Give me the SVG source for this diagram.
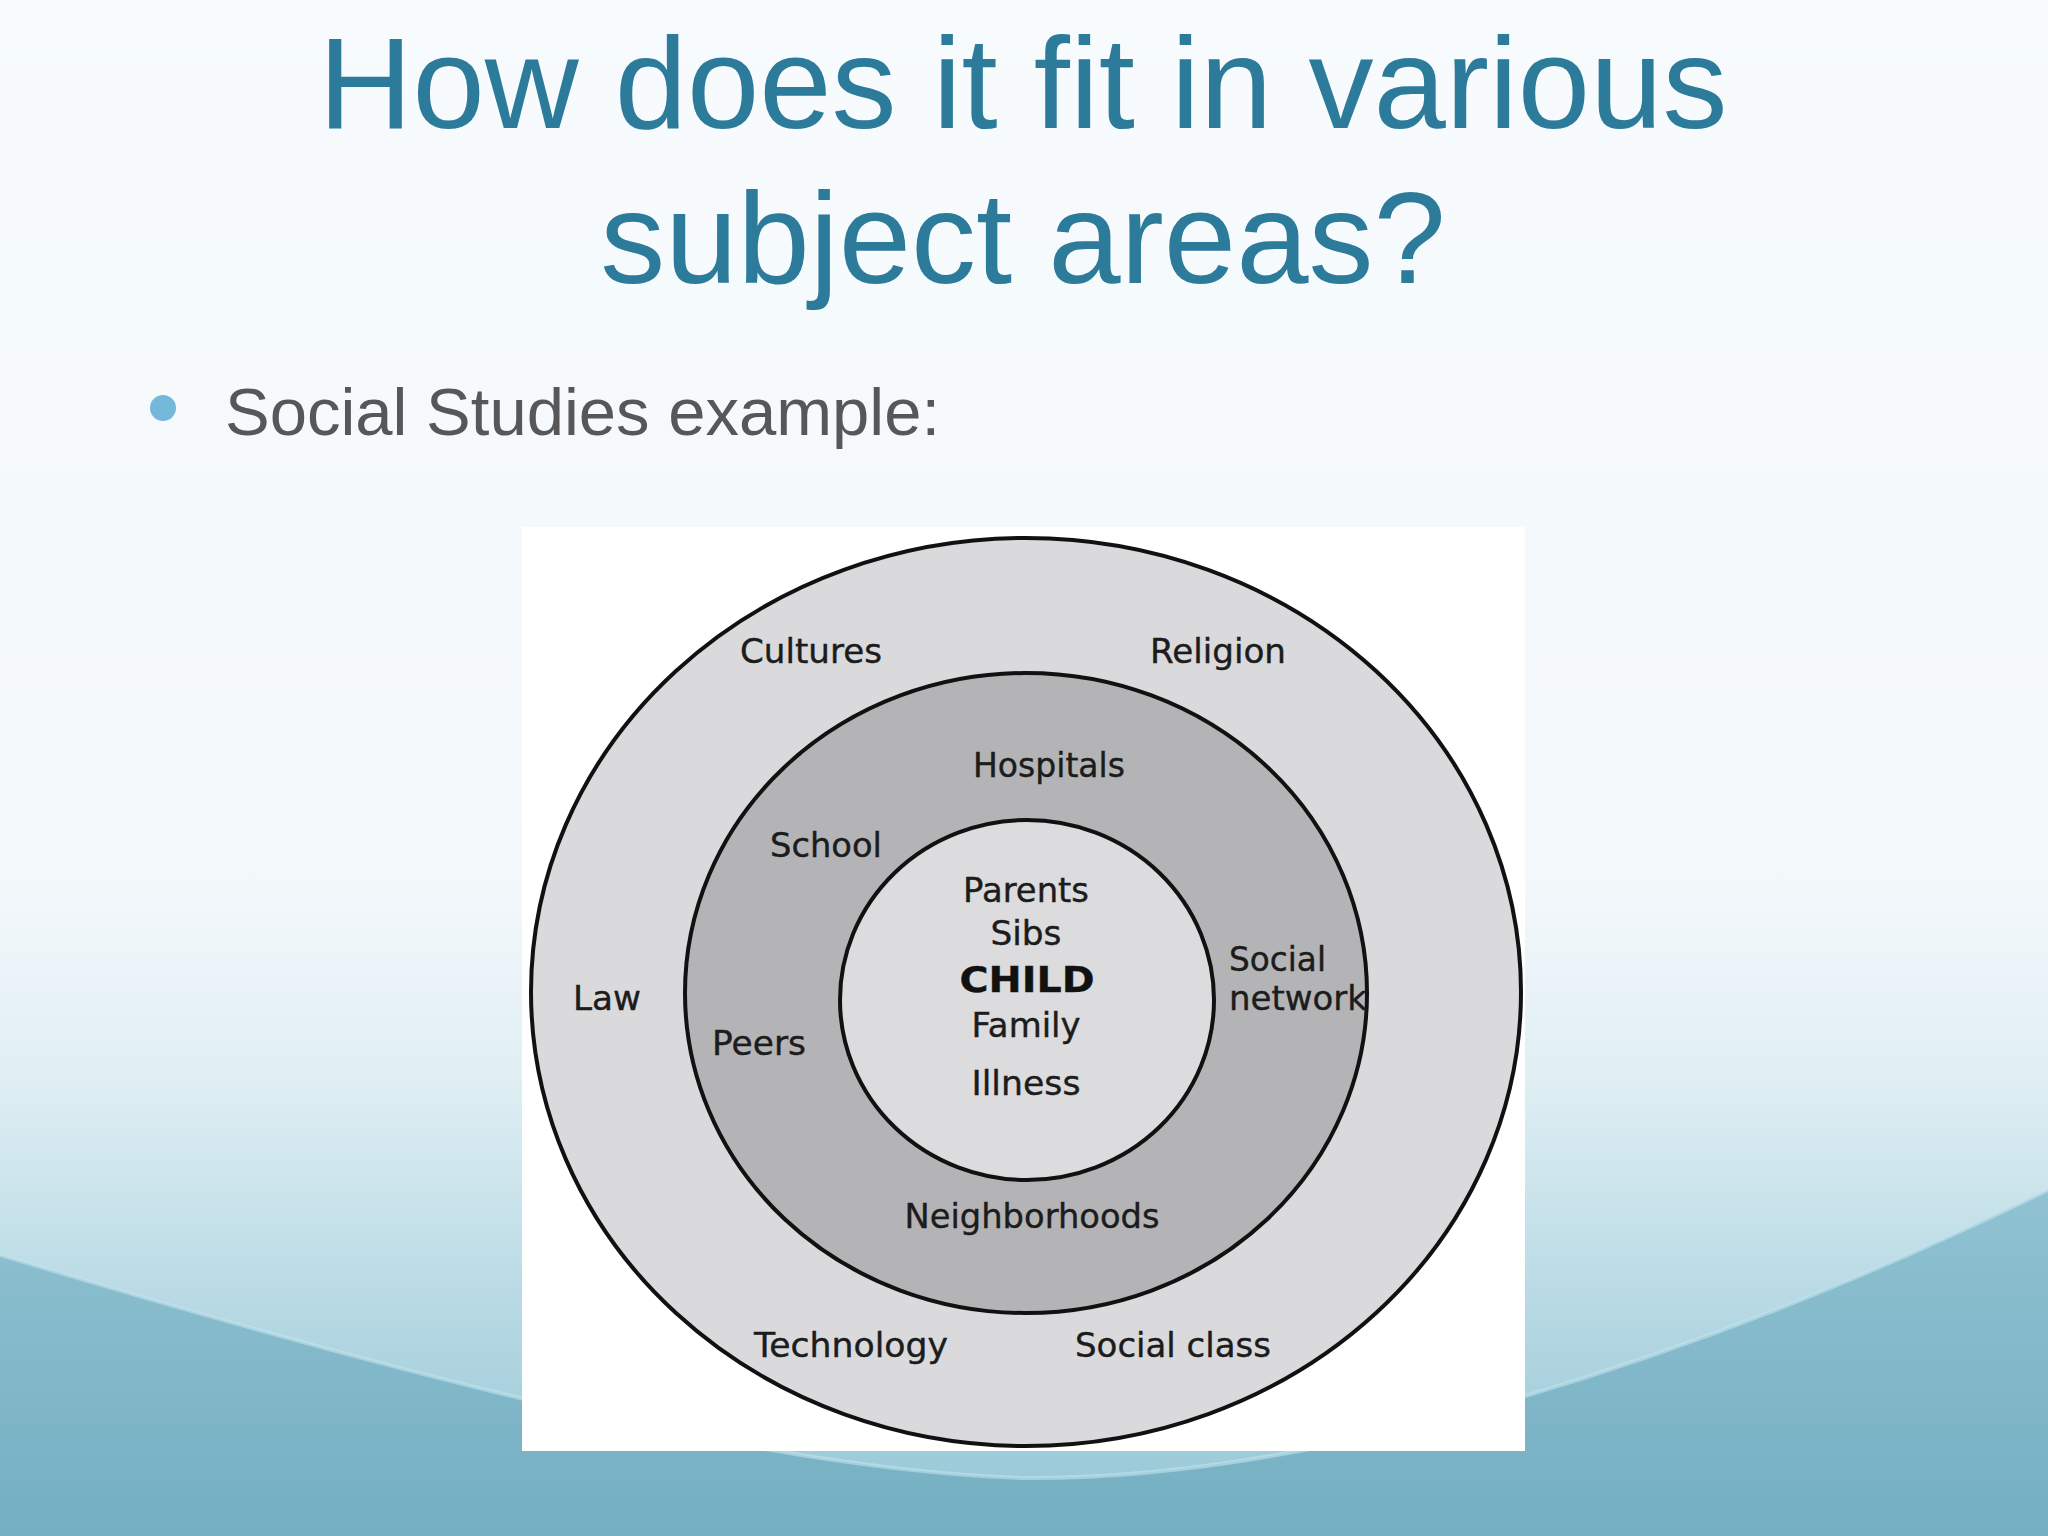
<svg xmlns="http://www.w3.org/2000/svg" width="2048" height="1536" viewBox="0 0 2048 1536">
  <defs>
    <linearGradient id="bg" x1="0" y1="0" x2="0" y2="1">
      <stop offset="0" stop-color="#f7fbfd"/>
      <stop offset="0.58" stop-color="#f3f8fb"/>
      <stop offset="0.7" stop-color="#e0eff4"/>
      <stop offset="0.83" stop-color="#bcdce6"/>
      <stop offset="1" stop-color="#93c5d4"/>
    </linearGradient>
    <linearGradient id="wave" x1="0" y1="0" x2="0" y2="1">
      <stop offset="0" stop-color="#86bccd"/>
      <stop offset="1" stop-color="#6eabbf"/>
    </linearGradient>
    <radialGradient id="glow" cx="0.5" cy="1" r="0.5">
      <stop offset="0" stop-color="#a3cfdc" stop-opacity="0.9"/>
      <stop offset="1" stop-color="#a3cfdc" stop-opacity="0"/>
    </radialGradient>
    <style>
      .title { font-family: "Liberation Sans", Arial, sans-serif; font-size: 130px; fill: #2c7b9b; text-anchor: middle; }
      .bullet { font-family: "Liberation Sans", Arial, sans-serif; font-size: 67px; fill: #575757; }
      .ring { stroke: #111; stroke-width: 4; }
      .lbl { font-family: "DejaVu Sans", Verdana, sans-serif; font-size: 33px; fill: #1c1c1c; stroke: #1c1c1c; stroke-width: 0.4; }
      .mid { text-anchor: middle; }
      .bold { font-weight: bold; font-size: 36px; fill: #111; }
    </style>
  </defs>

  <!-- background -->
  <rect x="0" y="0" width="2048" height="1536" fill="url(#bg)"/>
  <path d="M0,1255 C350,1360 750,1470 1024,1478 C1320,1480 1700,1360 2048,1190 L2048,1536 L0,1536 Z" fill="url(#wave)" opacity="0.85"/>
  <path d="M0,1255 C350,1360 750,1470 1024,1478 C1320,1480 1700,1360 2048,1190" fill="none" stroke="#c2e2ec" stroke-width="4" opacity="0.6"/>
  <ellipse cx="1024" cy="1536" rx="700" ry="140" fill="url(#glow)"/>

  <!-- title -->
  <g id="title">
    <text class="title" x="1023" y="128">How does it fit in various</text>
    <text class="title" x="1023" y="283">subject areas?</text>
  </g>

  <g id="bullet">
    <circle cx="163" cy="408" r="13" fill="#74b8da"/>
    <text class="bullet" x="225" y="435">Social Studies example:</text>
  </g>

  <!-- picture panel -->
  <rect id="panel" x="522" y="527" width="1003" height="924" fill="#ffffff"/>

  <g id="connectors"/>

  <g id="ring-outer">
    <ellipse class="ring" cx="1026" cy="992" rx="495" ry="454" fill="#dadadc"/>
    <text class="lbl mid" x="811" y="663" textLength="142" lengthAdjust="spacingAndGlyphs">Cultures</text>
    <text class="lbl mid" x="1218" y="663" textLength="136" lengthAdjust="spacingAndGlyphs">Religion</text>
    <text class="lbl" x="573" y="1010" textLength="68" lengthAdjust="spacingAndGlyphs">Law</text>
    <text class="lbl mid" x="851" y="1357" textLength="194" lengthAdjust="spacingAndGlyphs">Technology</text>
    <text class="lbl mid" x="1173" y="1357" textLength="196" lengthAdjust="spacingAndGlyphs">Social class</text>
  </g>

  <g id="ring-middle">
    <ellipse class="ring" cx="1026" cy="993" rx="341" ry="320" fill="#b4b4b6"/>
    <text class="lbl mid" x="1049" y="777" textLength="152" lengthAdjust="spacingAndGlyphs">Hospitals</text>
    <text class="lbl mid" x="826" y="857" textLength="112" lengthAdjust="spacingAndGlyphs">School</text>
    <text class="lbl" x="1229" y="971" textLength="97" lengthAdjust="spacingAndGlyphs">Social</text>
    <text class="lbl" x="1229" y="1010" textLength="138" lengthAdjust="spacingAndGlyphs">network</text>
    <text class="lbl" x="712" y="1055" textLength="94" lengthAdjust="spacingAndGlyphs">Peers</text>
    <text class="lbl mid" x="1032" y="1228" textLength="255" lengthAdjust="spacingAndGlyphs">Neighborhoods</text>
  </g>

  <g id="ring-inner">
    <ellipse class="ring" cx="1027" cy="1000" rx="187" ry="180" fill="#dcdcde"/>
    <text class="lbl mid" x="1026" y="902" textLength="126" lengthAdjust="spacingAndGlyphs">Parents</text>
    <text class="lbl mid" x="1026" y="945" textLength="71" lengthAdjust="spacingAndGlyphs">Sibs</text>
    <text class="lbl mid bold" x="1027" y="992" textLength="135" lengthAdjust="spacingAndGlyphs">CHILD</text>
    <text class="lbl mid" x="1026" y="1037" textLength="109" lengthAdjust="spacingAndGlyphs">Family</text>
    <text class="lbl mid" x="1026" y="1095" textLength="109" lengthAdjust="spacingAndGlyphs">Illness</text>
  </g>
</svg>
